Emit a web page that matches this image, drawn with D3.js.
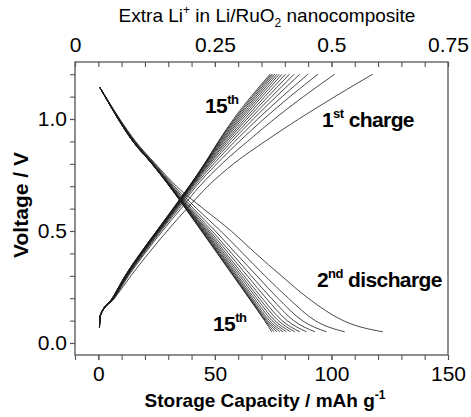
<!DOCTYPE html>
<html>
<head>
<meta charset="utf-8">
<script src="https://cdn.jsdelivr.net/npm/d3@7"></script>
<style>
  body { margin: 0; background: #fff; }
  svg text { font-family: "Liberation Sans", Arial, Helvetica, sans-serif; }
</style>
</head>
<body>
<div id="chart"></div>
<script>
var chargeVolts = [0.07, 0.12, 0.2, 0.3, 0.4, 0.5, 0.6, 0.7, 0.8, 0.9, 1.0, 1.1, 1.2];
// capacity (mAh/g) at those voltages, 1st .. 15th charge
var chargeCapacity = [
  [0.5, 0.8, 7.0, 14.0, 21.5, 29.5, 38.0, 47.0, 58.0, 71.5, 86.0, 101.5, 117.7],
  [0.5, 0.8, 6.8, 13.0, 20.0, 27.5, 35.5, 43.5, 53.0, 64.0, 75.5, 88.0, 101.4],
  [0.5, 0.8, 6.6, 12.6, 19.5, 26.8, 34.5, 42.0, 50.8, 60.5, 71.0, 82.2, 94.2],
  [0.5, 0.8, 6.5, 12.4, 19.2, 26.4, 33.9, 41.2, 49.5, 58.6, 68.4, 78.9, 89.9],
  [0.5, 0.75, 6.4, 12.2, 18.9, 26.1, 33.5, 40.6, 48.5, 57.2, 66.5, 76.3, 86.4],
  [0.5, 0.75, 6.3, 12.1, 18.7, 25.9, 33.2, 40.2, 47.8, 56.1, 65.0, 74.4, 84.0],
  [0.5, 0.75, 6.3, 12.0, 18.6, 25.7, 33.0, 39.9, 47.3, 55.2, 63.8, 72.8, 82.0],
  [0.5, 0.75, 6.2, 11.9, 18.5, 25.6, 32.8, 39.7, 46.9, 54.5, 62.8, 71.4, 80.3],
  [0.5, 0.7, 6.2, 11.8, 18.4, 25.4, 32.6, 39.5, 46.5, 53.8, 61.8, 70.2, 78.8],
  [0.5, 0.7, 6.1, 11.7, 18.3, 25.3, 32.5, 39.4, 46.2, 53.3, 61.0, 69.2, 77.6],
  [0.5, 0.7, 6.1, 11.7, 18.2, 25.2, 32.4, 39.3, 46.0, 52.8, 60.3, 68.3, 76.6],
  [0.5, 0.7, 6.1, 11.6, 18.1, 25.2, 32.3, 39.2, 45.8, 52.4, 59.6, 67.5, 75.7],
  [0.5, 0.7, 6.0, 11.6, 18.1, 25.1, 32.2, 39.1, 45.7, 52.0, 59.0, 66.8, 74.9],
  [0.5, 0.7, 6.0, 11.5, 18.0, 25.0, 32.1, 39.0, 45.6, 51.7, 58.5, 66.1, 74.3],
  [0.5, 0.7, 6.0, 11.5, 18.0, 25.0, 32.0, 39.0, 45.5, 51.5, 58.0, 65.5, 73.7]
];

// voltage levels for the discharge curves
var dischargeVolts = [1.14, 1.1, 1.0, 0.9, 0.8, 0.7, 0.6, 0.5, 0.4, 0.3, 0.2, 0.1, 0.05];
// capacity at those voltages, 2nd .. 15th discharge
var dischargeCapacity = [
  [0.7, 3.1, 9.2, 16.0, 24.5, 33.5, 45.0, 57.0, 67.5, 78.5, 90.0, 105.0, 122.0],
  [0.7, 3.05, 9.0, 15.7, 24.1, 32.6, 42.2, 52.5, 62.0, 71.5, 81.5, 93.0, 105.7],
  [0.7, 3.0, 8.9, 15.5, 23.8, 32.0, 40.8, 50.2, 59.0, 68.0, 77.0, 87.5, 97.9],
  [0.7, 3.0, 8.8, 15.3, 23.6, 31.6, 39.9, 48.8, 57.2, 65.6, 74.2, 83.8, 92.9],
  [0.7, 3.0, 8.7, 15.2, 23.4, 31.3, 39.3, 47.8, 55.9, 63.9, 72.0, 81.0, 89.3],
  [0.7, 2.95, 8.7, 15.1, 23.3, 31.1, 38.8, 47.1, 54.8, 62.5, 70.3, 78.8, 86.4],
  [0.7, 2.95, 8.6, 15.0, 23.2, 30.9, 38.5, 46.5, 54.0, 61.5, 69.0, 77.2, 84.3],
  [0.7, 2.95, 8.6, 15.0, 23.2, 30.8, 38.3, 46.0, 53.3, 60.6, 67.9, 75.7, 82.4],
  [0.7, 2.9, 8.6, 14.9, 23.1, 30.7, 38.1, 45.6, 52.7, 59.8, 66.9, 74.5, 80.7],
  [0.7, 2.9, 8.6, 14.9, 23.1, 30.7, 37.9, 45.2, 52.2, 59.2, 66.1, 73.4, 79.2],
  [0.7, 2.9, 8.5, 14.9, 23.1, 30.6, 37.7, 44.9, 51.8, 58.7, 65.5, 72.6, 77.8],
  [0.7, 2.9, 8.5, 14.8, 23.0, 30.6, 37.6, 44.6, 51.5, 58.3, 65.1, 72.0, 76.6],
  [0.7, 2.9, 8.5, 14.8, 23.0, 30.5, 37.5, 44.4, 51.2, 58.0, 64.8, 71.6, 75.4],
  [0.7, 2.9, 8.5, 14.8, 23.0, 30.5, 37.4, 44.2, 51.0, 57.8, 64.6, 71.3, 74.4]
];

var bottomTicks = [0, 50, 100, 150];
var topTicks = [-10, 50, 100, 150];
var topTickLabels = ['0', '0.25', '0.5', '0.75'];
var yTicks = [0, 0.5, 1.0];

var svg = d3.select('#chart').append('svg')
    .attr('width', 471)
    .attr('height', 417),
  margin = {top: 62, right: 23, bottom: 62, left: 75},
  width = svg.attr('width') - margin.left - margin.right,
  height = svg.attr('height') - margin.top - margin.bottom,
  g = svg.append('g').attr('transform', 'translate(' + margin.left + ',' + margin.top + ')');

var x = d3.scaleLinear().domain([-10, 150]).range([0, width]),
  y = d3.scaleLinear().domain([-0.0536, 1.2545]).range([height, 0]);

var line = d3.line()
  .curve(d3.curveMonotoneX)
  .x(function (d) { return x(d[0]); })
  .y(function (d) { return y(d[1]); });

function toPoints(caps, volts) {
  return caps.map(function (c, i) { return [c, volts[i]]; });
}

var curves = chargeCapacity.map(function (c) { return toPoints(c, chargeVolts); })
  .concat(dischargeCapacity.map(function (c) { return toPoints(c, dischargeVolts); }));

g.append('g').attr('class', 'curves')
  .selectAll('path')
  .data(curves)
  .enter().append('path')
  .attr('d', line)
  .attr('fill', 'none')
  .attr('stroke', '#1a1a1a')
  .attr('stroke-width', 0.8);

// axes
function styleAxis(sel) {
  sel.selectAll('.domain').remove();
  sel.selectAll('line').attr('stroke', '#555').attr('stroke-width', 1.1);
  sel.selectAll('text').style('font-size', '21px').attr('fill', '#000');
}

g.append('g')
  .attr('transform', 'translate(0,' + height + ')')
  .call(d3.axisBottom(x).tickValues(d3.range(-10, 151, 10)).tickSize(5).tickFormat(''))
  .call(styleAxis);
g.append('g')
  .attr('transform', 'translate(0,' + height + ')')
  .call(d3.axisBottom(x).tickValues(bottomTicks).tickSize(5).tickPadding(6).tickFormat(d3.format('d')))
  .call(styleAxis);

g.append('g')
  .call(d3.axisTop(x).tickValues(d3.range(-10, 151, 10)).tickSize(-5).tickFormat(''))
  .call(styleAxis);
g.append('g')
  .call(d3.axisTop(x).tickValues(topTicks).tickSize(-5).tickPadding(10)
    .tickFormat(function (d, i) { return topTickLabels[i]; }))
  .call(styleAxis);

g.append('g')
  .call(d3.axisLeft(y).tickValues(d3.range(0, 1.21, 0.1)).tickSize(5).tickFormat(''))
  .call(styleAxis);
g.append('g')
  .call(d3.axisLeft(y).tickValues(yTicks).tickSize(5).tickPadding(3).tickFormat(d3.format('.1f')))
  .call(styleAxis);

g.append('rect')
  .attr('width', width)
  .attr('height', height)
  .attr('fill', 'none')
  .attr('stroke', '#555')
  .attr('stroke-width', 1.3);

// axis titles
var bottomTitle = svg.append('text')
  .attr('x', 265).attr('y', 407)
  .attr('text-anchor', 'middle')
  .style('font-size', '19px').style('font-weight', 'bold');
bottomTitle.append('tspan').text('Storage Capacity / mAh g');
bottomTitle.append('tspan').attr('dy', -8).style('font-size', '12px').text('-1');

var topTitle = svg.append('text')
  .attr('x', 267).attr('y', 22)
  .attr('text-anchor', 'middle')
  .style('font-size', '19px');
topTitle.append('tspan').text('Extra Li');
topTitle.append('tspan').attr('dy', -8).style('font-size', '12px').text('+');
topTitle.append('tspan').attr('dy', 8).text(' in Li/RuO');
topTitle.append('tspan').attr('dy', 5).style('font-size', '12px').text('2');
topTitle.append('tspan').attr('dy', -5).text(' nanocomposite');

svg.append('text')
  .attr('transform', 'translate(28,205) rotate(-90)')
  .attr('text-anchor', 'middle')
  .style('font-size', '21px').style('font-weight', 'bold')
  .text('Voltage / V');

// curve annotations
function note(px, py, main, sup, rest) {
  var t = svg.append('text')
    .attr('x', px).attr('y', py)
    .style('font-size', '21px').style('font-weight', 'bold')
    .style('letter-spacing', '-0.6px');
  t.append('tspan').text(main);
  t.append('tspan').attr('dy', -9).style('font-size', '13px').text(sup);
  if (rest) t.append('tspan').attr('dy', 9).text(rest);
}
note(205, 113, '15', 'th');
note(322, 127, '1', 'st', ' charge');
note(317, 287, '2', 'nd', ' discharge');
note(213, 331, '15', 'th');
</script>
</body>
</html>
